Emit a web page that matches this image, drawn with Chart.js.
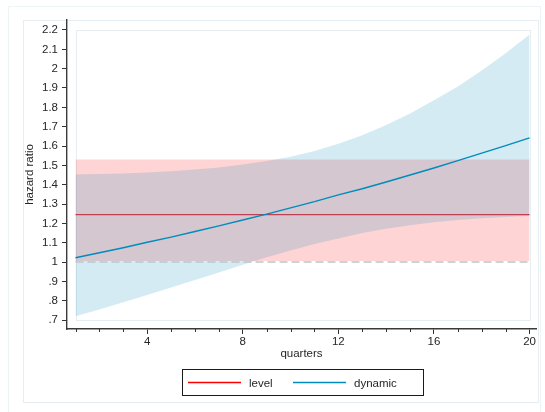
<!DOCTYPE html>
<html>
<head>
<meta charset="utf-8">
<title>hazard ratio by quarter</title>
<script src="https://cdn.jsdelivr.net/npm/chart.js@4.4.1/dist/chart.umd.min.js"></script>
<style>
  html, body { margin: 0; padding: 0; background: #ffffff; }
  #wrap { width: 545px; height: 412px; position: relative; }
</style>
</head>
<body>
<div id="wrap"><canvas id="hrChart" width="545" height="412"></canvas></div>
<script>
// ---- data ----
const quarters = [1, 2, 3, 4, 5, 6, 7, 8, 9, 10, 11, 12, 13, 14, 15, 16, 17, 18, 19, 20];

// level effect: flat hazard ratio with its confidence band
const levelHR    = [1.245, 1.245, 1.245, 1.245, 1.245, 1.245, 1.245, 1.245, 1.245, 1.245,
                    1.245, 1.245, 1.245, 1.245, 1.245, 1.245, 1.245, 1.245, 1.245, 1.245];
const levelUpper = [1.53, 1.53, 1.53, 1.53, 1.53, 1.53, 1.53, 1.53, 1.53, 1.53,
                    1.53, 1.53, 1.53, 1.53, 1.53, 1.53, 1.53, 1.53, 1.53, 1.53];
const levelLower = [1.005, 1.005, 1.005, 1.005, 1.005, 1.005, 1.005, 1.005, 1.005, 1.005,
                    1.005, 1.005, 1.005, 1.005, 1.005, 1.005, 1.005, 1.005, 1.005, 1.005];

// dynamic effect: hazard ratio changing with quarters
const dynamicHR    = [1.022, 1.048, 1.074, 1.102, 1.129, 1.158, 1.187, 1.217, 1.248, 1.280,
                      1.312, 1.347, 1.379, 1.414, 1.450, 1.486, 1.524, 1.563, 1.602, 1.642];
const dynamicUpper = [1.452, 1.455, 1.458, 1.463, 1.470, 1.478, 1.489, 1.504, 1.522, 1.545,
                      1.574, 1.612, 1.656, 1.708, 1.768, 1.836, 1.908, 1.991, 2.080, 2.177];
const dynamicLower = [0.720, 0.755, 0.792, 0.829, 0.868, 0.907, 0.946, 0.986, 1.024, 1.060,
                      1.093, 1.122, 1.150, 1.172, 1.190, 1.205, 1.217, 1.226, 1.233, 1.239];

// reference line at hazard ratio 1
const refX = [1, 20];
const refY = [1, 1];

// axis ticks
const xTicks = [4, 8, 12, 16, 20];
const yTicks = [0.7, 0.8, 0.9, 1, 1.1, 1.2, 1.3, 1.4, 1.5, 1.6, 1.7, 1.8, 1.9, 2, 2.1, 2.2];
const yTickLabels = ['.7', '.8', '.9', '1', '1.1', '1.2', '1.3', '1.4', '1.5', '1.6',
                     '1.7', '1.8', '1.9', '2', '2.1', '2.2'];

// legend entries, left to right
const legendKeys = ['level', 'dynamic'];

// ---- colours ----
const RED = '#ff0000';
const BLUE = '#008bbc';
const RED_BAND = 'rgba(255, 0, 0, 0.17)';
const BLUE_BAND = 'rgba(0, 139, 188, 0.17)';
const TEXT = '#262626';

function pts(xs, ys) {
    return xs.map((x, i) => ({ x: x, y: ys[i] }));
}

Chart.defaults.font.family = "'Liberation Sans', Arial, sans-serif";
Chart.defaults.font.size = 11.5;
Chart.defaults.color = TEXT;

// faint graph-region frames behind everything
const framesPlugin = {
    id: 'frames',
    beforeDraw(chart) {
        const ctx = chart.ctx;
        ctx.save();
        ctx.fillStyle = '#ffffff';
        ctx.fillRect(0, 0, chart.width, chart.height);
        ctx.lineWidth = 1;
        ctx.strokeStyle = '#eef3f6';
        ctx.strokeRect(8.5, 6.5, 532, 420);
        ctx.strokeStyle = '#e6eef2';
        ctx.strokeRect(23.5, 20.5, 515, 382);
        ctx.restore();
    },
    beforeDatasetsDraw(chart) {
        // plot region outline
        const x = chart.scales.x, y = chart.scales.y;
        const ctx = chart.ctx;
        const l = Math.round(x.getPixelForValue(quarters[0])) + 0.5;
        const r = Math.round(x.getPixelForValue(quarters[quarters.length - 1])) + 0.5;
        const t = Math.round(y.getPixelForValue(yTicks[yTicks.length - 1])) + 0.5;
        const b = Math.round(y.getPixelForValue(yTicks[0])) + 0.5;
        ctx.save();
        ctx.strokeStyle = '#e6eef2';
        ctx.lineWidth = 1;
        ctx.strokeRect(l, t, r - l, b - t);
        ctx.restore();
    }
};

// short minor ticks at every quarter on the x axis
const minorTicksPlugin = {
    id: 'minorTicks',
    afterDraw(chart) {
        const x = chart.scales.x;
        const ctx = chart.ctx;
        const y0 = chart.chartArea.bottom;
        ctx.save();
        ctx.strokeStyle = '#333333';
        ctx.lineWidth = 1;
        quarters.forEach(q => {
            if (xTicks.includes(q)) return;
            const px = Math.round(x.getPixelForValue(q)) + 0.5;
            ctx.beginPath();
            ctx.moveTo(px, y0);
            ctx.lineTo(px, y0 + 3);
            ctx.stroke();
        });
        ctx.restore();
    }
};

// boxed legend under the x axis title
const boxLegendPlugin = {
    id: 'boxLegend',
    afterDraw(chart) {
        const ctx = chart.ctx;
        const items = legendKeys.map(k => chart.data.datasets.find(d => d.label === k));
        const box = { x: 182.5, y: 369.5, w: 241, h: 26 };
        ctx.save();
        ctx.strokeStyle = '#1a1a1a';
        ctx.lineWidth = 1;
        ctx.strokeRect(box.x, box.y, box.w, box.h);
        ctx.font = "11.5px 'Liberation Sans', Arial, sans-serif";
        ctx.textBaseline = 'middle';
        ctx.fillStyle = TEXT;
        const starts = [188, 293];
        const ly = box.y + box.h / 2;
        items.forEach((d, i) => {
            const sx = starts[i];
            ctx.strokeStyle = d.legendColor;
            ctx.lineWidth = 1.3;
            ctx.beginPath();
            ctx.moveTo(sx, ly);
            ctx.lineTo(sx + 53, ly);
            ctx.stroke();
            ctx.fillText(d.label, sx + 61, ly + 1);
        });
        ctx.restore();
    }
};

new Chart(document.getElementById('hrChart'), {
    type: 'line',
    data: {
        datasets: [
            {
                label: 'dynamic',
                data: pts(quarters, dynamicHR),
                borderColor: BLUE,
                legendColor: BLUE,
                borderWidth: 1.4,
                pointRadius: 0,
                fill: false,
                order: 1
            },
            {
                label: 'ref',
                data: pts(refX, refY),
                borderColor: '#b9c7cd',
                borderWidth: 1.6,
                borderDash: [8, 4],
                pointRadius: 0,
                fill: false,
                order: 2
            },
            {
                label: 'dynamic upper',
                data: pts(quarters, dynamicUpper),
                borderWidth: 0,
                borderColor: 'rgba(0,0,0,0)',
                backgroundColor: BLUE_BAND,
                pointRadius: 0,
                fill: '+1',
                order: 3
            },
            {
                label: 'dynamic lower',
                data: pts(quarters, dynamicLower),
                borderWidth: 0,
                borderColor: 'rgba(0,0,0,0)',
                pointRadius: 0,
                fill: false,
                order: 3
            },
            {
                label: 'level',
                data: pts(quarters, levelHR),
                borderColor: '#e2323c',
                legendColor: RED,
                borderWidth: 1.2,
                pointRadius: 0,
                fill: false,
                order: 4
            },
            {
                label: 'level upper',
                data: pts(quarters, levelUpper),
                borderWidth: 0,
                borderColor: 'rgba(0,0,0,0)',
                backgroundColor: RED_BAND,
                pointRadius: 0,
                fill: '+1',
                order: 5
            },
            {
                label: 'level lower',
                data: pts(quarters, levelLower),
                borderWidth: 0,
                borderColor: 'rgba(0,0,0,0)',
                pointRadius: 0,
                fill: false,
                order: 5
            }
        ]
    },
    options: {
        responsive: false,
        animation: false,
        devicePixelRatio: 1,
        layout: { padding: { left: 0, top: 20, right: 9, bottom: 0 } },
        plugins: {
            legend: { display: false },
            tooltip: { enabled: false },
            filler: { propagate: false }
        },
        scales: {
            x: {
                type: 'linear',
                min: 0.644,
                max: 20.27,
                afterBuildTicks(scale) {
                    scale.ticks = xTicks.map(v => ({ value: v }));
                },
                afterFit(scale) {
                    scale.height = 83;
                },
                ticks: {
                    autoSkip: false,
                    maxRotation: 0,
                    padding: 1,
                    color: TEXT
                },
                grid: {
                    drawOnChartArea: false,
                    tickLength: 5,
                    tickColor: '#333333',
                    tickWidth: 1
                },
                border: { display: true, color: '#3a3a3a', width: 1.4 },
                title: {
                    display: true,
                    text: 'quarters',
                    color: TEXT,
                    padding: { top: 0, bottom: 51 }
                }
            },
            y: {
                type: 'linear',
                min: 0.6535,
                max: 2.2517,
                afterBuildTicks(scale) {
                    scale.ticks = yTicks.map(v => ({ value: v }));
                },
                afterFit(scale) {
                    scale.width = 67;
                },
                ticks: {
                    autoSkip: false,
                    padding: 4,
                    color: TEXT,
                    callback: (value, index) => yTickLabels[index]
                },
                grid: {
                    drawOnChartArea: false,
                    tickLength: 5,
                    tickColor: '#333333',
                    tickWidth: 1
                },
                border: { display: true, color: '#3a3a3a', width: 1.4 },
                title: {
                    display: true,
                    text: 'hazard ratio',
                    color: TEXT,
                    padding: { top: 23, bottom: 0 }
                }
            }
        }
    },
    plugins: [framesPlugin, minorTicksPlugin, boxLegendPlugin]
});
</script>
</body>
</html>
